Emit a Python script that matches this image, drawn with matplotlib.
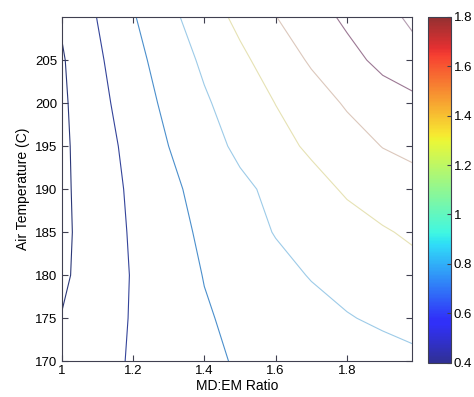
import numpy as np
import matplotlib
matplotlib.use('Agg')
import matplotlib.pyplot as plt
from matplotlib import cm
from matplotlib.colors import Normalize, ListedColormap

plt.rcParams['font.family'] = ['Liberation Sans', 'DejaVu Sans']

# grid of the response surface
md_em_ratio = [1.0, 1.1, 1.2, 1.3, 1.4, 1.5, 1.6, 1.7, 1.8, 1.9, 2.0]
air_temp = [170, 175, 180, 185, 190, 195, 200, 205, 210]
response = [
    [0.450, 0.536, 0.618, 0.692, 0.766, 0.816, 0.847, 0.877, 0.908, 0.938, 0.969],
    [0.405, 0.512, 0.614, 0.699, 0.783, 0.840, 0.890, 0.940, 0.990, 1.026, 1.058],
    [0.369, 0.492, 0.612, 0.710, 0.806, 0.876, 0.945, 1.010, 1.056, 1.102, 1.150],
    [0.360, 0.493, 0.622, 0.731, 0.833, 0.923, 1.009, 1.068, 1.127, 1.183, 1.235],
    [0.363, 0.501, 0.635, 0.759, 0.862, 0.960, 1.045, 1.134, 1.223, 1.290, 1.340],
    [0.364, 0.514, 0.660, 0.800, 0.925, 1.039, 1.137, 1.231, 1.320, 1.405, 1.450],
    [0.369, 0.540, 0.699, 0.845, 0.976, 1.092, 1.203, 1.313, 1.420, 1.510, 1.560],
    [0.381, 0.568, 0.738, 0.892, 1.033, 1.159, 1.292, 1.423, 1.539, 1.649, 1.755],
    [0.420, 0.604, 0.785, 0.951, 1.102, 1.249, 1.396, 1.518, 1.635, 1.742, 1.850],
]
levels = [0.4, 0.6, 0.8, 1.0, 1.2, 1.4, 1.6, 1.8]
cbar_labels = ['0.4', '0.6', '0.8', '1', '1.2', '1.4', '1.6', '1.8']
x_ticks = [1.0, 1.2, 1.4, 1.6, 1.8]
x_labels = ['1', '1.2', '1.4', '1.6', '1.8']
y_ticks = [170, 175, 180, 185, 190, 195, 200, 205]

# line colours as they come out on the scanned page (thin lines look washed out)
line_colors = ['#2c3878', '#34449a', '#4b8fcc', '#9dcbe8',
               '#e6e2b4', '#dcc8bc', '#9c7894', '#b49cb0']

# washed out jet, like the printed page
base = plt.get_cmap('jet')(np.linspace(0, 1, 256))
faded = base * 0.78 + 0.22 * np.array([0.85, 0.86, 0.88, 1.0])
cmap = ListedColormap(faded)
norm = Normalize(vmin=0.4, vmax=1.8)

fig = plt.figure(figsize=(4.74, 3.97), dpi=100)
ax = fig.add_axes([0.130, 0.090, 0.739, 0.867])

X, Y = np.meshgrid(md_em_ratio, air_temp)
Z = np.array(response)
ax.contour(X, Y, Z, levels=levels, colors=line_colors, linewidths=0.8)

ax.set_xlim(1.0, 1.982)
ax.set_ylim(170, 210)
ax.set_xticks(x_ticks)
ax.set_xticklabels(x_labels)
ax.set_yticks(y_ticks)
ax.tick_params(direction='in', top=True, right=True, length=4,
               labelsize=9.5, color='#404050', pad=3)
for s in ax.spines.values():
    s.set_color('#404050')
    s.set_linewidth(0.8)
ax.set_xlabel('MD:EM Ratio', fontsize=10, labelpad=1)
ax.set_ylabel('Air Temperature (C)', fontsize=10, labelpad=4)

cax = fig.add_axes([0.902, 0.086, 0.049, 0.872])
sm = cm.ScalarMappable(norm=norm, cmap=cmap)
cb = fig.colorbar(sm, cax=cax)
cb.set_ticks(levels)
cb.set_ticklabels(cbar_labels)
cb.ax.tick_params(direction='in', length=3, labelsize=9.5, color='#404050', pad=2)
cb.outline.set_edgecolor('#404050')
cb.outline.set_linewidth(0.8)

fig.savefig('out.png', dpi=100)
